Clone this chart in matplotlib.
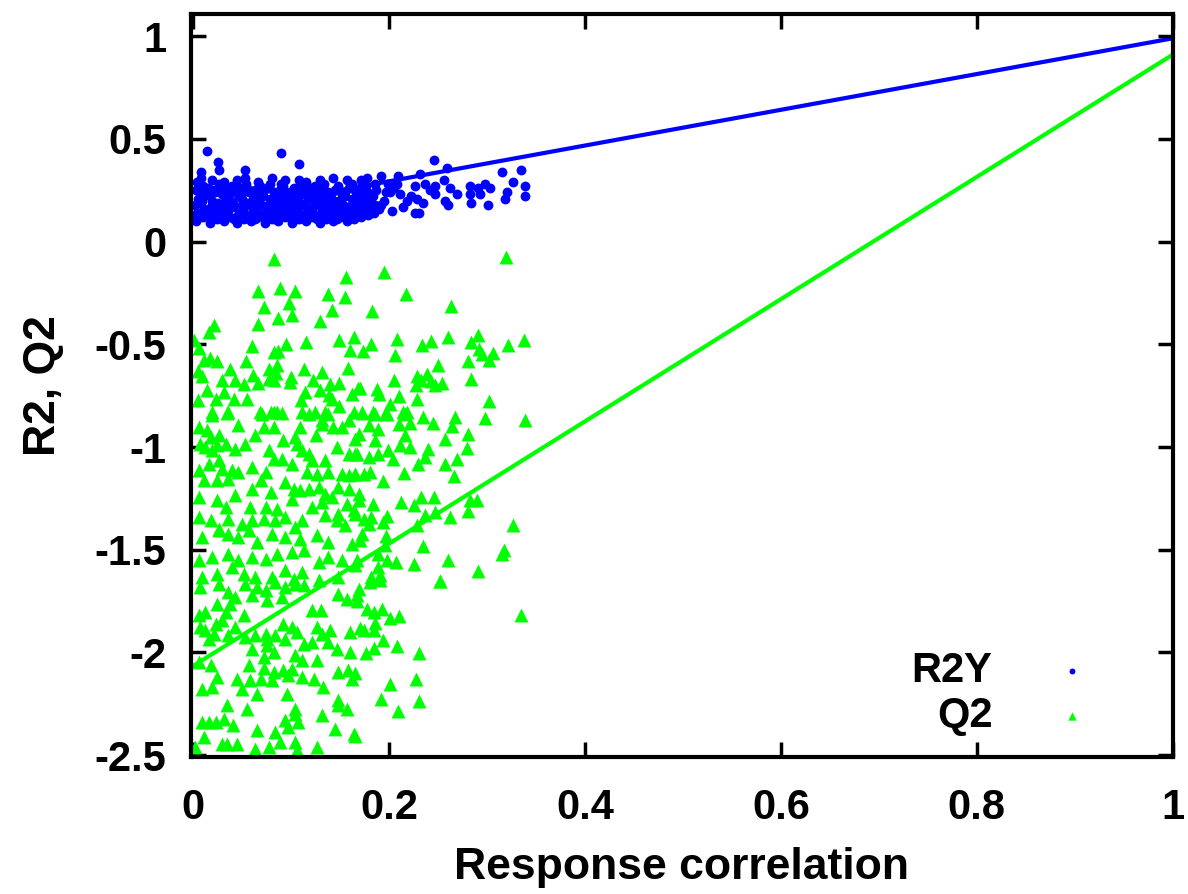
import matplotlib
matplotlib.use("Agg")
import matplotlib.pyplot as plt

plt.rcParams['font.family'] = ['Liberation Sans', 'DejaVu Sans']
plt.rcParams['font.weight'] = 'bold'
plt.rcParams['axes.unicode_minus'] = False

# R2Y permutation results (response correlation, R2Y)
r2y_x = [0.003, 0.004, 0.002, 0.005, 0.003, 0.004, 0.010, 0.011, 0.009, 0.012, 0.010, 0.008,
         0.017, 0.016, 0.018, 0.017, 0.015, 0.019, 0.024, 0.023, 0.025, 0.022, 0.026, 0.025,
         0.031, 0.030, 0.032, 0.033, 0.029, 0.031, 0.038, 0.037, 0.039, 0.036, 0.040,
         0.045, 0.046, 0.044, 0.047, 0.043, 0.045, 0.052, 0.051, 0.053, 0.050, 0.054, 0.053,
         0.059, 0.060, 0.058, 0.061, 0.057, 0.066, 0.065, 0.067, 0.064, 0.068, 0.066,
         0.073, 0.072, 0.074, 0.071, 0.075, 0.080, 0.081, 0.079, 0.082, 0.078, 0.080,
         0.087, 0.086, 0.088, 0.085, 0.089, 0.090, 0.094, 0.095, 0.093, 0.096, 0.092, 0.094,
         0.101, 0.100, 0.102, 0.099, 0.103, 0.108, 0.107, 0.109, 0.106, 0.110, 0.108,
         0.115, 0.116, 0.114, 0.117, 0.113, 0.115, 0.122, 0.121, 0.123, 0.120, 0.124,
         0.129, 0.128, 0.130, 0.127, 0.131, 0.129, 0.136, 0.137, 0.135, 0.138, 0.134,
         0.143, 0.142, 0.144, 0.141, 0.145, 0.143, 0.150, 0.151, 0.149, 0.152, 0.148,
         0.157, 0.156, 0.158, 0.155, 0.159, 0.157, 0.164, 0.165, 0.163, 0.166, 0.162,
         0.171, 0.170, 0.172, 0.169, 0.173, 0.171, 0.178, 0.179, 0.177, 0.180, 0.176,
         0.185, 0.186, 0.184, 0.187, 0.190, 0.195, 0.197, 0.199,
         0.007, 0.006, 0.008, 0.007, 0.020, 0.021, 0.019, 0.020, 0.028, 0.027, 0.029,
         0.034, 0.035, 0.033, 0.034, 0.042, 0.041, 0.043, 0.049, 0.048, 0.050, 0.049,
         0.056, 0.055, 0.057, 0.063, 0.062, 0.064, 0.063, 0.070, 0.069, 0.071,
         0.077, 0.076, 0.078, 0.077, 0.084, 0.083, 0.085, 0.091, 0.090, 0.092, 0.091,
         0.098, 0.097, 0.099, 0.105, 0.104, 0.106, 0.105, 0.112, 0.111, 0.113,
         0.119, 0.118, 0.120, 0.119, 0.126, 0.125, 0.127, 0.133, 0.132, 0.134, 0.133,
         0.140, 0.139, 0.141, 0.147, 0.146, 0.148, 0.147, 0.154, 0.153, 0.155,
         0.161, 0.160, 0.162, 0.161, 0.168, 0.167, 0.169, 0.175, 0.174, 0.176, 0.182, 0.181,
         0.014, 0.090, 0.025, 0.108, 0.026, 0.053, 0.008,
         0.246, 0.259, 0.315, 0.335, 0.327, 0.339, 0.339, 0.320, 0.318, 0.301, 0.298, 0.303,
         0.291, 0.283, 0.283, 0.284, 0.293, 0.269, 0.262, 0.256, 0.247, 0.242, 0.237, 0.232,
         0.226, 0.247, 0.257, 0.260, 0.235, 0.226, 0.231, 0.218, 0.209, 0.208, 0.211, 0.201,
         0.203, 0.192, 0.177, 0.172, 0.186, 0.182, 0.174, 0.192, 0.214, 0.222, 0.205, 0.228]
r2y_y = [0.10, 0.14, 0.18, 0.21, 0.25, 0.29, 0.12, 0.16, 0.20, 0.23, 0.27, 0.31,
         0.09, 0.13, 0.17, 0.22, 0.26, 0.30, 0.11, 0.15, 0.19, 0.24, 0.28, 0.17,
         0.10, 0.14, 0.18, 0.21, 0.25, 0.29, 0.12, 0.16, 0.20, 0.23, 0.27,
         0.09, 0.13, 0.17, 0.22, 0.26, 0.30, 0.11, 0.15, 0.19, 0.24, 0.28, 0.31,
         0.10, 0.14, 0.18, 0.21, 0.25, 0.12, 0.16, 0.20, 0.23, 0.27, 0.29,
         0.09, 0.13, 0.17, 0.22, 0.26, 0.11, 0.15, 0.19, 0.24, 0.28, 0.31,
         0.10, 0.14, 0.18, 0.21, 0.25, 0.28, 0.12, 0.16, 0.20, 0.23, 0.27, 0.30,
         0.09, 0.13, 0.17, 0.22, 0.26, 0.11, 0.15, 0.19, 0.24, 0.28, 0.30,
         0.10, 0.14, 0.18, 0.21, 0.25, 0.29, 0.12, 0.16, 0.20, 0.23, 0.27,
         0.09, 0.13, 0.17, 0.22, 0.26, 0.30, 0.11, 0.15, 0.19, 0.24, 0.28,
         0.10, 0.14, 0.18, 0.21, 0.25, 0.31, 0.12, 0.16, 0.20, 0.23, 0.27,
         0.10, 0.13, 0.17, 0.22, 0.26, 0.30, 0.11, 0.15, 0.19, 0.24, 0.28,
         0.12, 0.14, 0.18, 0.21, 0.25, 0.30, 0.13, 0.16, 0.20, 0.23, 0.27,
         0.14, 0.18, 0.22, 0.25, 0.16, 0.20, 0.24, 0.28,
         0.12, 0.19, 0.23, 0.27, 0.11, 0.15, 0.20, 0.25, 0.13, 0.18, 0.23,
         0.12, 0.16, 0.21, 0.26, 0.11, 0.19, 0.24, 0.13, 0.17, 0.21, 0.26,
         0.12, 0.19, 0.24, 0.11, 0.15, 0.20, 0.25, 0.13, 0.18, 0.24,
         0.12, 0.16, 0.21, 0.26, 0.11, 0.19, 0.23, 0.13, 0.17, 0.21, 0.26,
         0.12, 0.19, 0.24, 0.11, 0.15, 0.20, 0.25, 0.13, 0.18, 0.23,
         0.12, 0.16, 0.21, 0.26, 0.11, 0.19, 0.24, 0.13, 0.17, 0.21, 0.26,
         0.12, 0.19, 0.23, 0.11, 0.15, 0.20, 0.25, 0.13, 0.18, 0.24,
         0.12, 0.16, 0.21, 0.26, 0.14, 0.19, 0.23, 0.15, 0.21, 0.25, 0.18, 0.23,
         0.44, 0.43, 0.39, 0.38, 0.35, 0.35, 0.34,
         0.40, 0.36, 0.34, 0.35, 0.29, 0.27, 0.22, 0.24, 0.21, 0.18, 0.28, 0.26,
         0.26, 0.27, 0.23, 0.19, 0.23, 0.23, 0.26, 0.30, 0.27, 0.25, 0.28, 0.33,
         0.27, 0.23, 0.20, 0.18, 0.19, 0.14, 0.14, 0.20, 0.32, 0.28, 0.23, 0.24,
         0.15, 0.32, 0.31, 0.28, 0.28, 0.14, 0.14, 0.18, 0.17, 0.22, 0.26, 0.21]

# Q2 permutation results (response correlation, Q2)
q2_x = [0.082, 0.089, 0.066, 0.104, 0.156, 0.138, 0.155, 0.072, 0.098, 0.142, 0.087, 0.101,
        0.066, 0.129, 0.021, 0.016, 0.001, 0.006, 0.060, 0.095, 0.115, 0.149, 0.164, 0.160,
        0.082, 0.087, 0.054, 0.017, 0.024, 0.011, 0.086, 0.113, 0.038, 0.077, 0.158, 0.131,
        0.005, 0.009, 0.061, 0.085, 0.100, 0.077, 0.043, 0.029, 0.122, 0.052, 0.066, 0.082,
        0.099, 0.140, 0.149, 0.014, 0.031, 0.114, 0.129, 0.139, 0.005, 0.023, 0.042, 0.055,
        0.110, 0.142, 0.162, 0.168, 0.019, 0.036, 0.068, 0.079, 0.086, 0.111, 0.124, 0.135,
        0.149, 0.164,
        0.319, 0.195, 0.217, 0.263, 0.183, 0.208, 0.182, 0.234, 0.243, 0.260, 0.291, 0.284,
        0.321, 0.338, 0.173, 0.206, 0.292, 0.295, 0.306, 0.302, 0.281, 0.250, 0.228, 0.239,
        0.233, 0.243, 0.247, 0.254, 0.227, 0.284, 0.205, 0.170, 0.188, 0.190, 0.210, 0.229,
        0.302, 0.201, 0.197, 0.172, 0.184, 0.214, 0.218,
        0.019, 0.034, 0.070, 0.082, 0.091, 0.118, 0.131, 0.138, 0.159, 0.006, 0.014, 0.018,
        0.026, 0.046, 0.063, 0.072, 0.082, 0.092, 0.104, 0.109, 0.125, 0.131, 0.143, 0.152,
        0.169, 0.007, 0.012, 0.019, 0.024, 0.033, 0.043, 0.053, 0.077, 0.082, 0.091, 0.106,
        0.111, 0.118, 0.121, 0.135, 0.147, 0.159, 0.165, 0.006, 0.016, 0.026, 0.029, 0.040,
        0.046, 0.060, 0.074, 0.069, 0.101, 0.116, 0.126, 0.138, 0.152, 0.159, 0.165, 0.011,
        0.024, 0.036, 0.060, 0.079, 0.094, 0.103, 0.109, 0.118, 0.128, 0.135, 0.148, 0.159,
        0.169, 0.006, 0.024, 0.033, 0.043, 0.058, 0.074, 0.086, 0.101, 0.121, 0.131, 0.142,
        0.148, 0.157, 0.164, 0.006, 0.018, 0.026, 0.036, 0.050, 0.060, 0.072, 0.084, 0.094,
        0.104, 0.111, 0.135, 0.147, 0.155, 0.009, 0.026, 0.036, 0.046, 0.057, 0.065, 0.080,
        0.094, 0.109, 0.126, 0.138, 0.162, 0.006, 0.019, 0.036, 0.046, 0.060, 0.074, 0.086,
        0.101, 0.113, 0.128, 0.138, 0.152, 0.167, 0.009, 0.024, 0.040, 0.052, 0.063, 0.080,
        0.094, 0.103, 0.111, 0.128, 0.148,
        0.172, 0.186, 0.198, 0.216, 0.235, 0.267, 0.298, 0.339, 0.179, 0.189, 0.210, 0.221,
        0.245, 0.264, 0.165, 0.186, 0.216, 0.257, 0.281, 0.211, 0.221, 0.240, 0.280, 0.167,
        0.179, 0.189, 0.199, 0.204, 0.230, 0.237, 0.257, 0.269, 0.165, 0.181, 0.174, 0.215,
        0.194, 0.266, 0.169, 0.184, 0.212, 0.225, 0.233, 0.246, 0.283, 0.290, 0.281, 0.247,
        0.237, 0.165, 0.174, 0.182, 0.198, 0.179, 0.194, 0.262, 0.228, 0.327, 0.172, 0.197,
        0.170, 0.235, 0.196, 0.189, 0.317, 0.315, 0.165, 0.189, 0.198, 0.207, 0.225, 0.260,
        0.182, 0.191, 0.252, 0.291,
        0.007, 0.026, 0.053, 0.065, 0.074, 0.084, 0.094, 0.104, 0.113, 0.036, 0.043, 0.060,
        0.075, 0.091, 0.148, 0.157, 0.167, 0.024, 0.038, 0.012, 0.033, 0.052, 0.006, 0.121,
        0.130, 0.029, 0.023, 0.007, 0.012, 0.021, 0.016, 0.043, 0.036, 0.053, 0.063, 0.074,
        0.084, 0.092, 0.101, 0.106, 0.126, 0.140, 0.160, 0.075, 0.094, 0.131, 0.138, 0.113,
        0.121, 0.060, 0.075, 0.082, 0.072, 0.104, 0.111, 0.126, 0.147, 0.160, 0.006, 0.018,
        0.057, 0.072, 0.082, 0.092, 0.101, 0.097, 0.111, 0.148, 0.158, 0.162, 0.024, 0.045,
        0.058, 0.069, 0.080, 0.123, 0.019, 0.009, 0.050, 0.133, 0.065, 0.096, 0.034, 0.055,
        0.104, 0.148, 0.148, 0.157, 0.104, 0.131, 0.009, 0.016, 0.023, 0.031, 0.041, 0.094,
        0.097, 0.107, 0.065, 0.084, 0.145, 0.011, 0.164, 0.029, 0.034, 0.045, 0.063, 0.077,
        0.089, 0.104, 0.126, 0.106, 0.002,
        0.181, 0.191, 0.252, 0.169, 0.167, 0.177, 0.185, 0.193, 0.201, 0.210, 0.335, 0.186,
        0.170, 0.174, 0.185, 0.194, 0.185, 0.176, 0.208, 0.231, 0.165, 0.227, 0.201, 0.192,
        0.231, 0.209, 0.165]
q2_y = [-0.086, -0.225, -0.240, -0.240, -0.170, -0.256, -0.270, -0.320, -0.300, -0.335, -0.373, -0.358,
        -0.400, -0.384, -0.404, -0.440, -0.477, -0.517, -0.510, -0.498, -0.488, -0.477, -0.465, -0.525,
        -0.537, -0.530, -0.580, -0.566, -0.580, -0.577, -0.600, -0.620, -0.620, -0.620, -0.615, -0.636,
        -0.630, -0.654, -0.647, -0.640, -0.659, -0.667, -0.673, -0.675, -0.673, -0.693, -0.690, -0.675,
        -0.683, -0.691, -0.686, -0.723, -0.732, -0.732, -0.720, -0.748, -0.769, -0.764, -0.764, -0.767,
        -0.772, -0.767, -0.740, -0.712, -0.830, -0.830, -0.830, -0.830, -0.830, -0.830, -0.830, -0.830,
        -0.800, -0.830,
        -0.077, -0.150, -0.256, -0.315, -0.339, -0.475, -0.500, -0.504, -0.483, -0.462, -0.452, -0.488,
        -0.501, -0.480, -0.534, -0.553, -0.524, -0.545, -0.540, -0.574, -0.581, -0.602, -0.655, -0.642,
        -0.675, -0.680, -0.700, -0.690, -0.699, -0.670, -0.675, -0.712, -0.719, -0.740, -0.751, -0.764,
        -0.776, -0.790, -0.830, -0.830, -0.830, -0.830, -0.830,
        -0.845, -0.834, -0.837, -0.829, -0.834, -0.837, -0.870, -0.837, -0.870, -0.902, -0.918, -0.951,
        -0.943, -0.894, -0.943, -0.902, -0.902, -0.967, -0.951, -0.902, -0.943, -0.886, -0.902, -0.902,
        -0.935, -0.983, -0.999, -1.016, -0.991, -0.983, -1.008, -0.983, -1.016, -1.056, -1.056, -0.983,
        -1.016, -1.032, -1.064, -1.064, -0.999, -1.032, -1.032, -1.113, -1.081, -1.064, -1.105, -1.113,
        -1.121, -1.097, -1.121, -1.162, -1.081, -1.121, -1.129, -1.121, -1.129, -1.137, -1.129, -1.162,
        -1.162, -1.154, -1.202, -1.219, -1.170, -1.202, -1.211, -1.202, -1.194, -1.227, -1.194, -1.202,
        -1.227, -1.243, -1.259, -1.292, -1.235, -1.292, -1.292, -1.300, -1.251, -1.292, -1.267, -1.243,
        -1.324, -1.275, -1.308, -1.340, -1.357, -1.397, -1.348, -1.373, -1.357, -1.348, -1.357, -1.340,
        -1.389, -1.357, -1.332, -1.357, -1.381, -1.438, -1.405, -1.421, -1.438, -1.405, -1.462, -1.421,
        -1.438, -1.446, -1.430, -1.462, -1.470, -1.551, -1.535, -1.519, -1.551, -1.535, -1.543, -1.519,
        -1.511, -1.503, -1.559, -1.535, -1.551, -1.551, -1.633, -1.616, -1.584, -1.616, -1.633, -1.633,
        -1.600, -1.641, -1.608, -1.649, -1.633,
        -0.834, -0.837, -0.837, -0.837, -0.853, -0.853, -0.857, -0.866, -0.894, -0.910, -0.886, -0.883,
        -0.883, -0.899, -0.959, -0.967, -0.943, -0.959, -0.935, -0.991, -0.999, -1.008, -1.003, -1.032,
        -1.048, -1.032, -1.016, -1.056, -1.081, -1.048, -1.081, -1.056, -1.129, -1.121, -1.129, -1.124,
        -1.165, -1.142, -1.259, -1.275, -1.267, -1.284, -1.243, -1.243, -1.256, -1.256, -1.311, -1.316,
        -1.332, -1.324, -1.348, -1.340, -1.337, -1.373, -1.365, -1.340, -1.381, -1.381, -1.421, -1.434,
        -1.454, -1.482, -1.478, -1.519, -1.503, -1.522, -1.576, -1.584, -1.551, -1.559, -1.571, -1.551,
        -1.633, -1.624, -1.652, -1.605,
        -1.681, -1.665, -1.665, -1.681, -1.697, -1.657, -1.681, -1.665, -1.673, -1.705, -1.730, -1.722,
        -1.746, -1.730, -1.713, -1.738, -1.722, -1.762, -1.762, -1.803, -1.803, -1.819, -1.819, -1.795,
        -1.795, -1.843, -1.860, -1.876, -1.892, -1.908, -1.933, -1.876, -1.916, -1.924, -1.916, -1.908,
        -1.916, -1.860, -1.876, -1.900, -1.876, -1.892, -1.900, -1.933, -1.933, -1.908, -1.949, -1.957,
        -1.949, -1.981, -1.965, -1.997, -2.022, -2.014, -2.038, -2.038, -1.981, -1.997, -2.046, -2.062,
        -2.062, -2.074, -2.095, -2.087, -2.079, -2.111, -2.119, -2.095, -2.087, -2.127, -2.119, -2.127,
        -2.135, -2.127, -2.135, -2.127, -2.168, -2.176, -2.176, -2.168, -2.200, -2.200, -2.257, -2.273,
        -2.273, -2.233, -2.257, -2.273, -2.298, -2.306, -2.338, -2.338, -2.338, -2.322, -2.354, -2.330,
        -2.363, -2.338, -2.379, -2.387, -2.371, -2.411, -2.395, -2.444, -2.444, -2.444, -2.468, -2.460,
        -2.436, -2.436, -2.460, -2.476, -2.460,
        -1.657, -1.649, -1.653, -1.689, -1.749, -1.786, -1.803, -1.786, -1.832, -1.824, -1.816, -1.856,
        -1.881, -1.889, -1.892, -1.937, -1.978, -2.002, -1.970, -2.002, -2.100, -2.127, -2.155, -2.228,
        -2.236, -2.286, -2.408]

# fitted lines through the origin point and the unpermuted model (x = 1)
line_x = [0.0, 1.0]
r2y_line = [0.12, 0.99]
q2_line = [-2.065, 0.91]

blue = '#0000ff'
green = '#00ff00'

fig = plt.figure(figsize=(11.88, 8.94), dpi=100)
ax = fig.add_axes([0.161, 0.153, 0.826, 0.831])

ax.plot(line_x, r2y_line, color=blue, lw=3, zorder=1)
ax.plot(line_x, q2_line, color=green, lw=3, zorder=1)
ax.scatter(r2y_x, r2y_y, s=50, marker='o', color=blue, linewidths=0, label='R2Y', zorder=2)
ax.scatter(q2_x, q2_y, s=100, marker='^', color=green, linewidths=0, label='Q2', zorder=2)

ax.set_xlim(-0.002, 1.0)
ax.set_ylim(-2.51, 1.107)
ax.set_xticks([0, 0.2, 0.4, 0.6, 0.8, 1])
ax.set_xticklabels(['0', '0.2', '0.4', '0.6', '0.8', '1'])
ax.set_yticks([-2.5, -2, -1.5, -1, -0.5, 0, 0.5, 1])
ax.set_yticklabels(['-2.5', '-2', '-1.5', '-1', '-0.5', '0', '0.5', '1'])
ax.tick_params(direction='in', length=11, width=2.5, top=True, right=True,
               labelsize=30, pad=18)
ax.tick_params(axis='x', pad=22)
for s in ax.spines.values():
    s.set_linewidth(3)

ax.set_xlabel('Response correlation', fontsize=32, fontweight='bold', labelpad=14)
ax.set_ylabel('R2, Q2', fontsize=32, fontweight='bold', labelpad=22)

leg = ax.legend(loc='lower right', bbox_to_anchor=(0.982, -0.011), frameon=False,
                markerfirst=False, fontsize=30, markerscale=0.6, handlelength=2.6,
                handletextpad=0.6, labelspacing=0.12, borderaxespad=0.3)
for t in leg.get_texts():
    t.set_fontweight('bold')

fig.savefig('out.png', dpi=100)
